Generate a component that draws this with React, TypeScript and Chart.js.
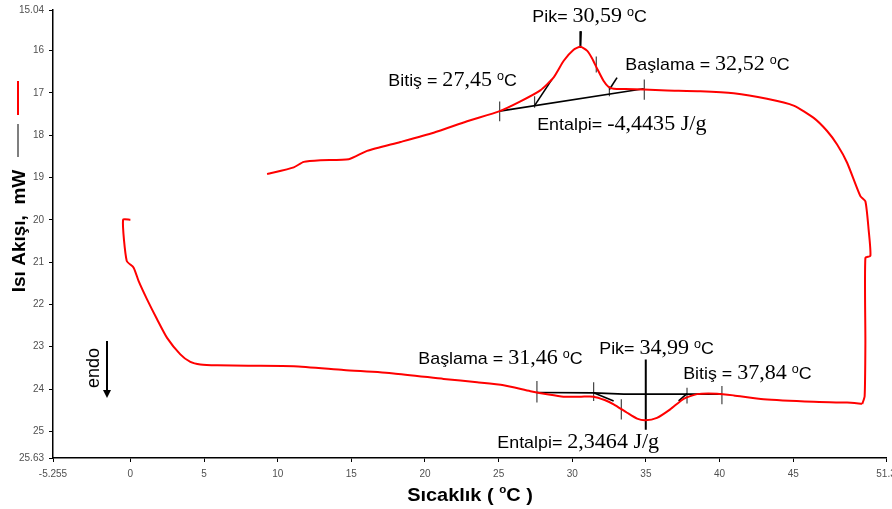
import React, { useEffect, useRef } from 'react';
import { Chart, registerables } from 'chart.js';

Chart.register(...registerables);

// ---- axis ticks ----
const xTicks = [-5.255, 0, 5, 10, 15, 20, 25, 30, 35, 40, 45, 51.3];
const xTickLabels = ['-5.255', '0', '5', '10', '15', '20', '25', '30', '35', '40', '45', '51.3'];
const yTicks = [15.04, 16, 17, 18, 19, 20, 21, 22, 23, 24, 25, 25.63];
const yTickLabels = ['15.04', '16', '17', '18', '19', '20', '21', '22', '23', '24', '25', '25.63'];

// ---- heating run (lower curve) ----
const heatTemp = [0.0, -0.5, -0.25, 0.22, 0.56, 1.13, 1.81, 2.49, 3.39, 4.07, 4.75, 5.89, 8.0, 11.09, 14.48, 17.87, 21.27, 23.54, 25.34, 27.16, 28.4, 29.41, 30.6, 31.45, 32.2, 32.81, 33.72, 34.4, 34.96, 35.75, 36.65, 37.56, 38.47, 39.83, 40.96, 42.99, 46.39, 48.66, 49.69];
const heatFlow = [20.0, 20.0, 20.97, 21.13, 21.45, 21.88, 22.35, 22.79, 23.18, 23.36, 23.42, 23.44, 23.45, 23.46, 23.55, 23.63, 23.76, 23.84, 23.91, 24.05, 24.13, 24.18, 24.18, 24.18, 24.26, 24.36, 24.56, 24.7, 24.74, 24.68, 24.48, 24.23, 24.12, 24.11, 24.15, 24.24, 24.3, 24.32, 24.35];

// ---- cooling run (right side + upper curve) ----
const coolTemp = [49.69, 49.85, 49.9, 49.9, 50.24, 50.12, 49.9, 49.56, 48.66, 47.98, 47.3, 46.39, 45.03, 43.22, 40.96, 38.7, 36.43, 34.85, 33.6, 32.81, 32.47, 32.13, 31.68, 31.34, 31.0, 30.55, 30.09, 29.42, 28.74, 27.83, 26.48, 25.07, 22.86, 20.59, 18.33, 16.07, 14.82, 12.9, 11.77, 11.09, 9.28];
const coolFlow = [24.35, 24.17, 22.91, 20.9, 20.85, 20.23, 19.56, 19.44, 18.65, 18.22, 17.9, 17.59, 17.3, 17.14, 17.01, 16.96, 16.94, 16.92, 16.91, 16.9, 16.86, 16.72, 16.42, 16.18, 16.0, 15.91, 15.98, 16.24, 16.63, 16.94, 17.2, 17.43, 17.67, 17.94, 18.16, 18.37, 18.57, 18.59, 18.63, 18.76, 18.92];

// ---- analysis construction lines (upper peak) ----
const upBaseTemp = [25.07, 34.85];
const upBaseFlow = [17.43, 16.9];
const upOnsetTemp = [27.44, 28.62];
const upOnsetFlow = [17.3, 16.68];
const upEndTemp = [32.52, 33.04];
const upEndFlow = [16.92, 16.64];
const upTickTemp = [25.07, 27.44, 31.63, 32.52, 34.89];
const upTickTop = [17.2, 17.08, 16.14, 16.84, 16.68];
const upTickBottom = [17.67, 17.35, 16.52, 17.08, 17.16];
const upPeakTemp = [30.59, 30.55];
const upPeakFlow = [15.54, 15.94];

// ---- analysis construction lines (lower peak) ----
const loBaseTemp = [27.6, 31.45, 33.5, 40.16];
const loBaseFlow = [24.08, 24.09, 24.12, 24.12];
const loOnsetTemp = [31.45, 32.81];
const loOnsetFlow = [24.09, 24.28];
const loEndTemp = [37.79, 37.22];
const loEndFlow = [24.11, 24.28];
const loTickTemp = [27.6, 31.45, 33.33, 37.79, 40.16];
const loTickTop = [23.81, 23.84, 24.24, 23.97, 23.93];
const loTickBottom = [24.32, 24.28, 24.72, 24.34, 24.36];
const loPeakTemp = [34.99, 34.99];
const loPeakFlow = [23.3, 24.96];

// ---- annotation texts ----
const noteWord = ['Pik= ', 'Başlama = ', 'Bitiş = ', 'Entalpi= ', 'Başlama = ', 'Pik= ', 'Bitiş = ', 'Entalpi= '];
const noteValue = ['30,59', '32,52', '27,45', '-4,4435 J/g', '31,46', '34,99', '37,84', '2,3464 J/g'];
const noteUnit = [true, true, true, false, true, true, true, false];
const noteTemp = [27.29, 33.6, 17.51, 27.62, 19.55, 31.83, 37.53, 24.91];
const noteFlow = [15.33, 16.45, 16.84, 17.88, 23.4, 23.16, 23.76, 25.4];

const SANS = '"Liberation Sans", Arial, sans-serif';
const SERIF = '"Liberation Serif", "Times New Roman", serif';

const line = (xs: number[], ys: number[], color: string, width: number, tension = 0) => ({
  data: xs.map((x, i) => ({ x, y: ys[i] })),
  showLine: true,
  borderColor: color,
  borderWidth: width,
  pointRadius: 0,
  tension,
  fill: false,
});

type Part = { t: string; f: string; dy?: number };
function measureRich(ctx: CanvasRenderingContext2D, parts: Part[]) {
  let w = 0;
  for (const p of parts) {
    ctx.font = p.f;
    w += ctx.measureText(p.t).width;
  }
  return w;
}
function drawRich(ctx: CanvasRenderingContext2D, x: number, y: number, parts: Part[], sx = 1) {
  ctx.save();
  ctx.translate(x, y);
  ctx.scale(sx, 1);
  let cx = 0;
  for (const p of parts) {
    ctx.font = p.f;
    ctx.fillText(p.t, cx, p.dy || 0);
    cx += ctx.measureText(p.t).width;
  }
  ctx.restore();
}

const decorPlugin = {
  id: 'decor',
  afterDraw(chart: any) {
    const ctx: CanvasRenderingContext2D = chart.ctx;
    const xs = chart.scales.x;
    const ys = chart.scales.y;
    ctx.save();
    // tick labels
    ctx.fillStyle = '#505050';
    ctx.font = `10px ${SANS}`;
    ctx.textAlign = 'center';
    ctx.textBaseline = 'middle';
    xTicks.forEach((v, i) => ctx.fillText(xTickLabels[i], xs.getPixelForValue(v), ys.bottom + 16));
    ctx.textAlign = 'right';
    yTicks.forEach((v, i) => ctx.fillText(yTickLabels[i], xs.left - 9, ys.getPixelForValue(v)));

    // annotations
    ctx.fillStyle = '#000';
    ctx.textAlign = 'left';
    ctx.textBaseline = 'alphabetic';
    noteWord.forEach((w, i) => {
      const parts: Part[] = [
        { t: w, f: `17px ${SANS}` },
        { t: noteValue[i], f: `21px ${SERIF}` },
      ];
      if (noteUnit[i]) {
        parts.push({ t: ' ', f: `17px ${SANS}` });
        parts.push({ t: 'o', f: `12px ${SANS}`, dy: -6 });
        parts.push({ t: 'C', f: `17px ${SANS}` });
      }
      drawRich(ctx, xs.getPixelForValue(noteTemp[i]), ys.getPixelForValue(noteFlow[i]), parts, 1.05);
    });

    // x axis title
    const xParts: Part[] = [
      { t: 'Sıcaklık ( ', f: `bold 19px ${SANS}` },
      { t: 'o', f: `bold 11px ${SANS}`, dy: -8 },
      { t: 'C )', f: `bold 19px ${SANS}` },
    ];
    const xw = measureRich(ctx, xParts) * 1.05;
    drawRich(ctx, 470 - xw / 2, 501, xParts, 1.05);

    // y axis title
    ctx.save();
    ctx.translate(25, 231);
    ctx.rotate(-Math.PI / 2);
    ctx.textAlign = 'center';
    ctx.font = `bold 19px ${SANS}`;
    ctx.fillText('Isı Akışı,  mW', 0, 0);
    ctx.restore();

    // legend strokes
    ctx.lineWidth = 2;
    ctx.strokeStyle = '#ff0000';
    ctx.beginPath();
    ctx.moveTo(18, 81);
    ctx.lineTo(18, 115);
    ctx.stroke();
    ctx.strokeStyle = '#555';
    ctx.lineWidth = 1.5;
    ctx.beginPath();
    ctx.moveTo(18, 124);
    ctx.lineTo(18, 157);
    ctx.stroke();

    // endo label + arrow
    ctx.save();
    ctx.translate(99, 368);
    ctx.rotate(-Math.PI / 2);
    ctx.textAlign = 'center';
    ctx.font = `18px ${SANS}`;
    ctx.fillText('endo', 0, 0);
    ctx.restore();
    ctx.strokeStyle = '#000';
    ctx.lineWidth = 2;
    ctx.beginPath();
    ctx.moveTo(107, 341);
    ctx.lineTo(107, 391);
    ctx.stroke();
    ctx.fillStyle = '#000';
    ctx.beginPath();
    ctx.moveTo(103, 390);
    ctx.lineTo(111, 390);
    ctx.lineTo(107, 398);
    ctx.closePath();
    ctx.fill();
    ctx.restore();
  },
};

export default function App() {
  const ref = useRef<HTMLCanvasElement>(null);
  useEffect(() => {
    document.body.style.margin = '0';
    const datasets: any[] = [
      line(heatTemp, heatFlow, '#ff0000', 2, 0.2),
      line(coolTemp, coolFlow, '#ff0000', 2, 0.2),
      line(upBaseTemp, upBaseFlow, '#000', 1.6),
      line(upOnsetTemp, upOnsetFlow, '#000', 1.6),
      line(upEndTemp, upEndFlow, '#000', 1.6),
      line(upPeakTemp, upPeakFlow, '#000', 2),
      line(loBaseTemp, loBaseFlow, '#000', 1.6),
      line(loOnsetTemp, loOnsetFlow, '#000', 1.6),
      line(loEndTemp, loEndFlow, '#000', 1.6),
      line(loPeakTemp, loPeakFlow, '#000', 2),
    ];
    upTickTemp.forEach((t, i) => datasets.push(line([t, t], [upTickTop[i], upTickBottom[i]], '#444', 1.2)));
    loTickTemp.forEach((t, i) => datasets.push(line([t, t], [loTickTop[i], loTickBottom[i]], '#444', 1.2)));

    const chart = new Chart(ref.current!, {
      type: 'scatter',
      data: { datasets },
      options: {
        responsive: false,
        animation: false,
        events: [],
        layout: { padding: { top: 10, right: 6, left: 0, bottom: 0 } },
        plugins: { legend: { display: false }, tooltip: { enabled: false } },
        scales: {
          x: {
            type: 'linear',
            min: -5.255,
            max: 51.3,
            afterBuildTicks: (s: any) => { s.ticks = xTicks.map((v) => ({ value: v })); },
            afterFit: (s: any) => { s.height = 51; },
            ticks: { display: false },
            grid: { display: true, drawOnChartArea: false, drawTicks: true, tickLength: 4, color: '#000', lineWidth: 1 },
            border: { display: true, color: '#000', width: 1.5 },
          },
          y: {
            type: 'linear',
            reverse: true,
            min: 15.04,
            max: 25.63,
            afterBuildTicks: (s: any) => { s.ticks = yTicks.map((v) => ({ value: v })); },
            afterFit: (s: any) => { s.width = 53; },
            ticks: { display: false },
            grid: { display: true, drawOnChartArea: false, drawTicks: true, tickLength: 4, color: '#000', lineWidth: 1 },
            border: { display: true, color: '#000', width: 1.5 },
          },
        },
      } as any,
      plugins: [decorPlugin],
    });
    return () => chart.destroy();
  }, []);
  return (
    <div style={{ width: 892, height: 509, background: '#fff' }}>
      <canvas ref={ref} width={892} height={509} style={{ display: 'block' }} />
    </div>
  );
}
